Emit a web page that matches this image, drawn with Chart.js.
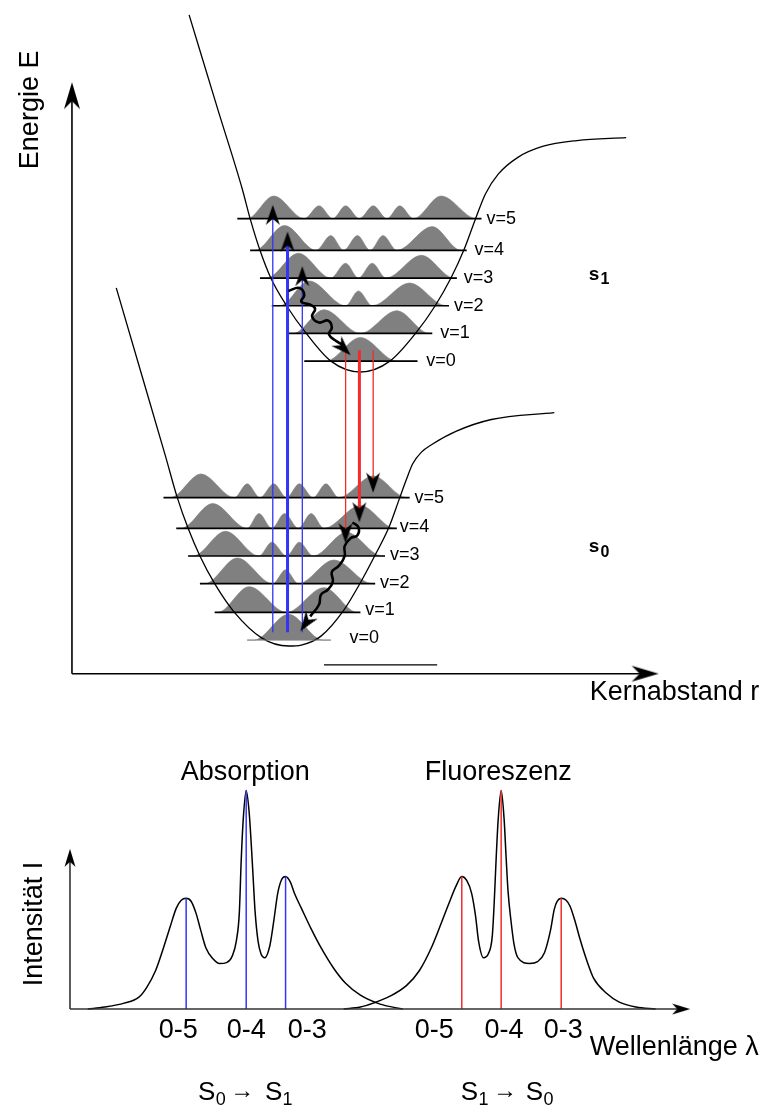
<!DOCTYPE html>
<html>
<head>
<meta charset="utf-8">
<script src="https://cdn.jsdelivr.net/npm/chart.js@4.4.1/dist/chart.umd.min.js"></script>
<style>
html,body{margin:0;padding:0;background:#fff;}
canvas{display:block;}
</style>
</head>
<body>
<canvas id="c" width="770" height="1113"></canvas>
<script>
// ===================== DATA (diagram units: r to the right, E downward) =====================
// Potential energy curves
const potS1 = [[186,9],[215,104],[240,185],[248,215],[258,247],[269,275],[285,303],[305,331],[330,359],[360,370],
               [390,359],[416,331],[436,303],[452,275],[465,247],[477,215],[487,190],[500,170],[520,153],[545,142],[580,136],[630,133]];
const potS0 = [[112,285],[137,370],[162,455],[174,497],[185,528],[197,556],[212,584],[232,613],[260,639],[287,647],
               [300,646],[320,637],[343,611],[360,583],[375,555],[389,527],[400,497],[407,478],[413,463],[422,451],[433,443],[457,430],[493,418],[557,411]];

// Vibrational levels v = 0..5
const levelNames = ['v=0','v=1','v=2','v=3','v=4','v=5'];
const s1LevelE    = [359,331,303,275,247,215];
const s1LevelFrom = [303,287,270,258,248,235];
const s1LevelTo   = [418,433,450,458,468,483];
const s0LevelE    = [641,613,584,556,528,497];
const s0LevelFrom = [245,212,197,185,173,160];
const s0LevelTo   = [330,360,375,385,397,410];

// Probability-density profiles (feet on the level, crests above it)
const s1Psi = [
  [[303,359],[325,359],[360,335],[397,359],[418,359]],
  [[287,331],[292,331],[323,307],[360,331],[397,308],[430,331],[433,331]],
  [[270,303],[278,303],[308,278],[345,303],[358,288],[372,303],[410,280],[447,303],[450,303]],
  [[258,275],[265,275],[297,250],[330,275],[345,260],[358,275],[372,260],[386,275],[422,252],[455,275],[458,275]],
  [[248,247],[253,247],[283,222],[315,247],[330,232],[343,247],[357,232],[370,247],[383,232],[397,247],[433,223],[462,247],[468,247]],
  [[235,215],[245,215],[272,192],[303,215],[318,202],[332,215],[345,202],[359,215],[373,202],[387,215],[400,202],[414,215],[442,192],[478,215],[483,215]]
];
const s0Psi = [
  [[245,641],[252,641],[287,615],[322,641],[330,641]],
  [[212,613],[215,613],[247,587],[285,613],[323,588],[357,613],[360,613]],
  [[197,584],[202,584],[235,558],[271,584],[284,570],[297,584],[333,560],[372,584],[375,584]],
  [[185,556],[190,556],[223,531],[257,556],[270,542],[285,556],[298,542],[312,556],[346,532],[382,556],[385,556]],
  [[173,528],[178,528],[210,503],[245,528],[257,513],[270,528],[283,513],[297,528],[310,513],[323,528],[360,505],[395,528],[397,528]],
  [[160,497],[167,497],[198,473],[232,497],[245,483],[258,497],[272,483],[285,497],[298,483],[312,497],[325,483],[338,497],[373,475],[407,497],[410,497]]
];

// Absorption S0(v=0) -> S1(v=5,4,3)
const absX     = [271,286,301];
const absFromE = 633;
const absToE   = [201,228,263];
// Fluorescence S1(v=0) -> S0(v=3,4,5)
const emX      = [345,359,373];
const emFromE  = 348;
const emToE    = [543,522,492];
// Vibrational relaxation (wavy paths) and their arrow tips
const relaxS1 = [[287,288],[298,285],[303,292],[300,299],[309,302],[314,306],[311,314],[318,320],[327,318],[331,325],[328,332],[336,339],[343,343]];
const relaxS1Tip = [350,353];
const relaxS0 = [[352,522],[358,527],[357,535],[350,538],[344,546],[344,556],[338,566],[331,572],[332,582],[327,590],[320,595],[318,605],[309,617]];
const relaxS0Tip = [299,632];
// Reference bar
const refBar = [[323,666],[438,666]];

// Spectra (wavelength, intensity)
const bandLabels = ['0-5','0-4','0-3'];
const spectrumBase = 1014;
const absorptionCurve = [[83,1014],[100,1012],[120,1008],[135,1002],[143,992],[152,975],[160,952],[167,930],[173,912],[178,904],[183,902],
  [188,905],[193,917],[198,935],[203,952],[210,963],[217,968],[224,967],[230,960],[234,945],[237,917],[239,862],[241,822],[244,793],
  [247,815],[249,845],[251,880],[253,915],[256,945],[259,958],[263,962],[268,950],[272,925],[276,897],[280,883],[284,880],
  [289,886],[293,897],[300,912],[310,933],[320,952],[333,973],[345,988],[360,1000],[380,1009],[403,1014]];
const fluorescenceCurve = [[343,1014],[360,1012],[373,1008],[390,1001],[407,990],[420,975],[433,950],[443,925],[450,907],[457,890],[463,880],
  [468,884],[473,897],[477,920],[480,945],[485,962],[490,958],[494,940],[496,905],[498,860],[500,822],[503,793],
  [506,822],[508,860],[510,895],[513,925],[516,948],[520,962],[532,968],[540,966],[547,957],[553,935],[557,913],[560,905],[564,902],
  [569,904],[573,910],[578,925],[583,943],[590,965],[597,983],[610,998],[623,1007],[640,1012],[660,1014]];
const absPeakX = [183,244,284];
const absPeakI = [902,793,880];
const fluPeakX = [463,503,564];
const fluPeakI = [880,793,902];

// Axes (origin and arrow tips)
const energyAxis   = {x0:67, y0:675, yTip:77,  xTip:663};
const spectrumAxis = {x0:65, y0:1014, yTip:852, xTip:695};

// Texts
const energyTitle = 'Energie E';
const distanceTitle = 'Kernabstand r';
const intensityTitle = 'Intensität I';
const wavelengthTitle = 'Wellenlänge λ';
const spectrumTitles = ['Absorption','Fluoreszenz'];

// ===================== STYLE / LAYOUT =====================
const FONT = "'Liberation Sans', Arial, Helvetica, sans-serif";
const GRAY = '#808080';
const BLUE = '#3434f4';
const RED  = '#f02c2c';

function arrowHead(len, half, notch){
  const size = Math.ceil(len)*2 + 4;
  const c = document.createElement('canvas');
  c.width = size; c.height = size;
  const g = c.getContext('2d');
  const m = size/2;
  g.fillStyle = '#000';
  g.beginPath();
  g.moveTo(m, m);
  g.lineTo(m + half, m + len);
  g.lineTo(m, m + len - notch);
  g.lineTo(m - half, m + len);
  g.closePath();
  g.fill();
  return c;
}
const bigHead = arrowHead(27, 8, 8);
const midHead = arrowHead(20, 7, 6);
const smallHead = arrowHead(18, 5.5, 5);

const pts = a => a.map(([x,y]) => ({x, y}));
const seg = (x1,y1,x2,y2) => [{x:x1,y:y1},{x:x2,y:y2}];
const heading = (from, to) => Math.atan2(to[0]-from[0], -(to[1]-from[1])) * 180 / Math.PI;

const datasets = [];

// probability densities
s1Psi.forEach((p,i) => datasets.push({data: pts(p), backgroundColor: GRAY, borderColor: GRAY, borderWidth: 0.6,
  fill: {value: s1LevelE[i]}, cubicInterpolationMode: 'monotone', order: 50}));
s0Psi.forEach((p,i) => datasets.push({data: pts(p), backgroundColor: GRAY, borderColor: GRAY, borderWidth: 0.6,
  fill: {value: s0LevelE[i]}, cubicInterpolationMode: 'monotone', order: 50}));

// potential curves
datasets.push({data: pts(potS1), borderColor: '#000', borderWidth: 1.3, cubicInterpolationMode: 'monotone', order: 40});
datasets.push({data: pts(potS0), borderColor: '#000', borderWidth: 1.3, cubicInterpolationMode: 'monotone', order: 40});

// vibrational levels
s1LevelE.forEach((e,i) => datasets.push({data: seg(s1LevelFrom[i], e, s1LevelTo[i], e), borderColor: '#000', borderWidth: 1.7, order: 30}));
s0LevelE.forEach((e,i) => datasets.push({data: seg(s0LevelFrom[i], e, s0LevelTo[i], e),
  borderColor: i === 0 ? GRAY : '#000', borderWidth: i === 0 ? 1 : 1.7, order: 30}));

// reference bar
datasets.push({data: pts(refBar), borderColor: '#000', borderWidth: 1.3, order: 30});

// absorption / emission lines
absX.forEach((x,i) => datasets.push({data: seg(x, absFromE, x, absToE[i] + 10), borderColor: BLUE, borderWidth: i === 1 ? 3 : 1.3, order: 20}));
emX.forEach((x,i) => datasets.push({data: seg(x, emFromE, x, emToE[i] - 10), borderColor: RED, borderWidth: i === 1 ? 3 : 1.3, order: 20}));

// relaxation
datasets.push({data: pts(relaxS1), borderColor: '#000', borderWidth: 2.6, tension: 0.45, order: 10});
datasets.push({data: pts(relaxS0), borderColor: '#000', borderWidth: 2.6, tension: 0.45, order: 10});

// transition arrow heads
const tips = [], tipRot = [];
absX.forEach((x,i) => { tips.push({x, y: absToE[i]}); tipRot.push(0); });
emX.forEach((x,i) => { tips.push({x, y: emToE[i]}); tipRot.push(180); });
tips.push({x: relaxS1Tip[0], y: relaxS1Tip[1]}); tipRot.push(heading(relaxS1[relaxS1.length-2], relaxS1Tip));
tips.push({x: relaxS0Tip[0], y: relaxS0Tip[1]}); tipRot.push(heading(relaxS0[relaxS0.length-2], relaxS0Tip));
datasets.push({data: tips, showLine: false, pointStyle: midHead, pointRadius: 5, pointRotation: tipRot, order: 0});

// energy diagram axes
datasets.push({data: seg(energyAxis.x0, energyAxis.y0, energyAxis.x0, energyAxis.yTip + 12), borderColor: '#000', borderWidth: 1.6, order: 5});
datasets.push({data: seg(energyAxis.x0, energyAxis.y0, energyAxis.xTip - 12, energyAxis.y0), borderColor: '#000', borderWidth: 1.6, order: 5});
datasets.push({data: [{x: energyAxis.x0, y: energyAxis.yTip}, {x: energyAxis.xTip, y: energyAxis.y0}], showLine: false,
  pointStyle: bigHead, pointRadius: 5, pointRotation: [0, 90], order: 0});

// spectrum axes
datasets.push({data: seg(spectrumAxis.x0, spectrumAxis.y0, spectrumAxis.x0, spectrumAxis.yTip + 8), borderColor: '#333', borderWidth: 1.6, order: 5});
datasets.push({data: seg(spectrumAxis.x0, spectrumAxis.y0, spectrumAxis.xTip - 8, spectrumAxis.y0), borderColor: '#333', borderWidth: 1.6, order: 5});
datasets.push({data: [{x: spectrumAxis.x0, y: spectrumAxis.yTip}, {x: spectrumAxis.xTip, y: spectrumAxis.y0}], showLine: false,
  pointStyle: smallHead, pointRadius: 5, pointRotation: [0, 90], order: 0});

// spectra
datasets.push({data: pts(absorptionCurve), borderColor: '#000', borderWidth: 1.5, cubicInterpolationMode: 'monotone', order: 30});
datasets.push({data: pts(fluorescenceCurve), borderColor: '#000', borderWidth: 1.5, cubicInterpolationMode: 'monotone', order: 30});
absPeakX.forEach((x,i) => datasets.push({data: seg(x, spectrumBase, x, absPeakI[i]), borderColor: BLUE, borderWidth: 1.5, order: 20}));
fluPeakX.forEach((x,i) => datasets.push({data: seg(x, spectrumBase, x, fluPeakI[i]), borderColor: RED, borderWidth: 1.5, order: 20}));

// ===================== TEXT LAYOUT =====================
const s1LabelX = [427,441,455,465,476,488];
const s0LabelX = [349,365,380,390,400,415];
const s0LabelY = [639,611,583,555,527,497];
const absBandLabelX = [175,244,306];
const fluBandLabelX = [435,506,566];

const textPlugin = {
  id: 'texts',
  afterDatasetsDraw(chart){
    const {ctx} = chart;
    const sx = chart.scales.x, sy = chart.scales.y;
    const put = (txt, x, y, o = {}) => {
      const px = sx.getPixelForValue(x), py = sy.getPixelForValue(y);
      ctx.save();
      ctx.translate(px, py);
      if (o.rot) ctx.rotate(o.rot);
      ctx.font = `${o.weight || 'normal'} ${o.size || 27}px ${FONT}`;
      ctx.fillStyle = o.color || '#000';
      ctx.textAlign = o.align || 'left';
      ctx.textBaseline = o.base || 'alphabetic';
      ctx.fillText(txt, 0, 0);
      ctx.restore();
    };
    // axis titles
    put(energyTitle, 33, 105, {rot: -Math.PI/2, align: 'center'});
    put(distanceTitle, 593, 702);
    put(intensityTitle, 37, 928, {rot: -Math.PI/2, align: 'center'});
    put(wavelengthTitle, 593, 1060);
    // spectrum titles
    put(spectrumTitles[0], 243, 782, {align: 'center'});
    put(spectrumTitles[1], 500, 782, {align: 'center'});
    // band labels
    bandLabels.forEach((t,i) => {
      put(t, absBandLabelX[i], 1043, {align: 'center'});
      put(t, fluBandLabelX[i], 1043, {align: 'center'});
    });
    // level labels
    levelNames.forEach((t,i) => {
      put(t, s1LabelX[i], s1LevelE[i], {size: 18, base: 'middle'});
      put(t, s0LabelX[i], s0LabelY[i], {size: 18, base: 'middle'});
    });
    // state labels
    put('s', 592, 277, {size: 19, weight: 'bold'});
    put('1', 604, 281, {size: 16, weight: 'bold'});
    put('s', 592, 552, {size: 19, weight: 'bold'});
    put('0', 604, 557, {size: 16, weight: 'bold'});
    // transitions under spectra
    put('S', 195, 1106, {size: 26});
    put('0', 213, 1111, {size: 18});
    put('→', 240, 1104, {size: 24, align: 'center'});
    put('S', 263, 1106, {size: 26});
    put('1', 281, 1111, {size: 18});
    put('S', 462, 1106, {size: 26});
    put('1', 480, 1111, {size: 18});
    put('→', 507, 1104, {size: 24, align: 'center'});
    put('S', 528, 1106, {size: 26});
    put('0', 546, 1111, {size: 18});
  }
};

new Chart(document.getElementById('c'), {
  type: 'line',
  data: {datasets},
  options: {
    responsive: false,
    animation: false,
    devicePixelRatio: 1,
    events: [],
    layout: {padding: 0},
    elements: {point: {radius: 0, hoverRadius: 0}, line: {tension: 0, capBezierPoints: true}},
    scales: {
      x: {type: 'linear', min: 0, max: 770, display: false},
      y: {type: 'linear', min: 0, max: 1113, reverse: true, display: false}
    },
    plugins: {legend: {display: false}, tooltip: {enabled: false}}
  },
  plugins: [textPlugin]
});
</script>
</body>
</html>
